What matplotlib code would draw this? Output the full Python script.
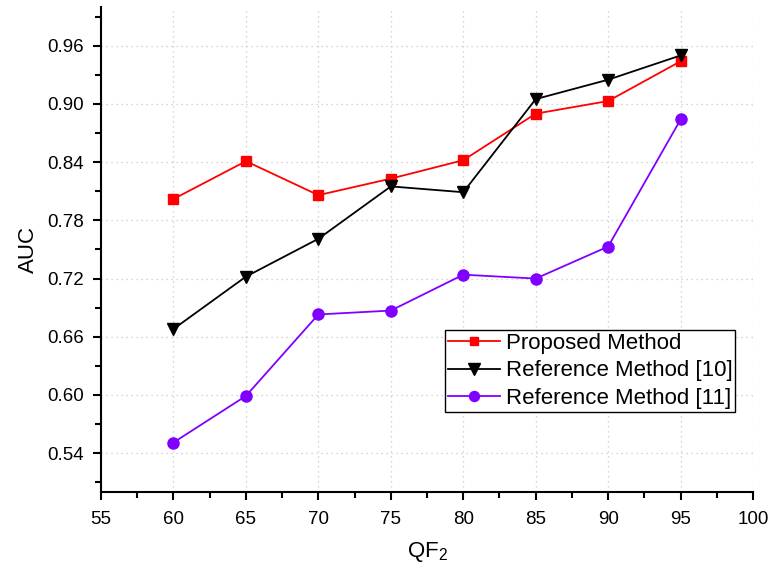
import matplotlib
matplotlib.use('Agg')
import matplotlib.pyplot as plt
from matplotlib.ticker import MultipleLocator, FormatStrFormatter

plt.rcParams['font.family'] = ['Liberation Sans', 'DejaVu Sans']
plt.rcParams['mathtext.fontset'] = 'custom'
plt.rcParams['mathtext.rm'] = 'Liberation Sans'

# datos
qf = [60, 65, 70, 75, 80, 85, 90, 95]
proposed = [0.802, 0.841, 0.806, 0.823, 0.842, 0.890, 0.903, 0.944]
ref10 = [0.668, 0.722, 0.761, 0.815, 0.809, 0.905, 0.925, 0.950]
ref11 = [0.551, 0.599, 0.683, 0.687, 0.724, 0.720, 0.753, 0.884]
labels = ['Proposed Method', 'Reference Method [10]', 'Reference Method [11]']

fig = plt.figure(figsize=(7.73, 5.74), dpi=100)
ax = fig.add_axes([0.1307, 0.1429, 0.8435, 0.845])

ax.plot(qf, proposed, color='#ff0000', marker='s', markersize=7, lw=1.3, label=labels[0])
ax.plot(qf, ref10, color='black', marker='v', markersize=9, lw=1.3, label=labels[1])
ax.plot(qf, ref11, color='#8000ff', marker='o', markersize=8, lw=1.3, label=labels[2])

ax.set_xlim(55, 100)
ax.set_ylim(0.5, 1.0)
ax.xaxis.set_major_locator(MultipleLocator(5))
ax.xaxis.set_minor_locator(MultipleLocator(2.5))
ax.set_yticks([0.54, 0.60, 0.66, 0.72, 0.78, 0.84, 0.90, 0.96])
ax.yaxis.set_minor_locator(MultipleLocator(0.03))
ax.yaxis.set_major_formatter(FormatStrFormatter('%.2f'))

for s in ['top', 'right']:
    ax.spines[s].set_visible(False)
for s in ['left', 'bottom']:
    ax.spines[s].set_linewidth(1.5)

ax.tick_params(which='major', direction='out', length=6, width=1.5, labelsize=13.5)
ax.tick_params(axis='x', which='major', pad=8)
ax.tick_params(axis='y', which='major', pad=6)
ax.tick_params(which='minor', direction='out', length=4, width=1.5)
ax.grid(True, which='major', color='#c8c8c8', linestyle=(0, (1, 3)), lw=0.9)

ax.set_xlabel('QF$_\\mathregular{2}$', fontsize=16, labelpad=8)
ax.set_ylabel('AUC', fontsize=16, labelpad=6)

leg = ax.legend(loc='upper left', bbox_to_anchor=(0.528, 0.334), borderaxespad=0,
                fontsize=16, fancybox=False, framealpha=1, edgecolor='black',
                handlelength=2.35, handletextpad=0.25, labelspacing=0.3,
                borderpad=0.12, markerscale=0.9)
leg.get_frame().set_linewidth(1.0)

fig.savefig('out.png', dpi=100)
